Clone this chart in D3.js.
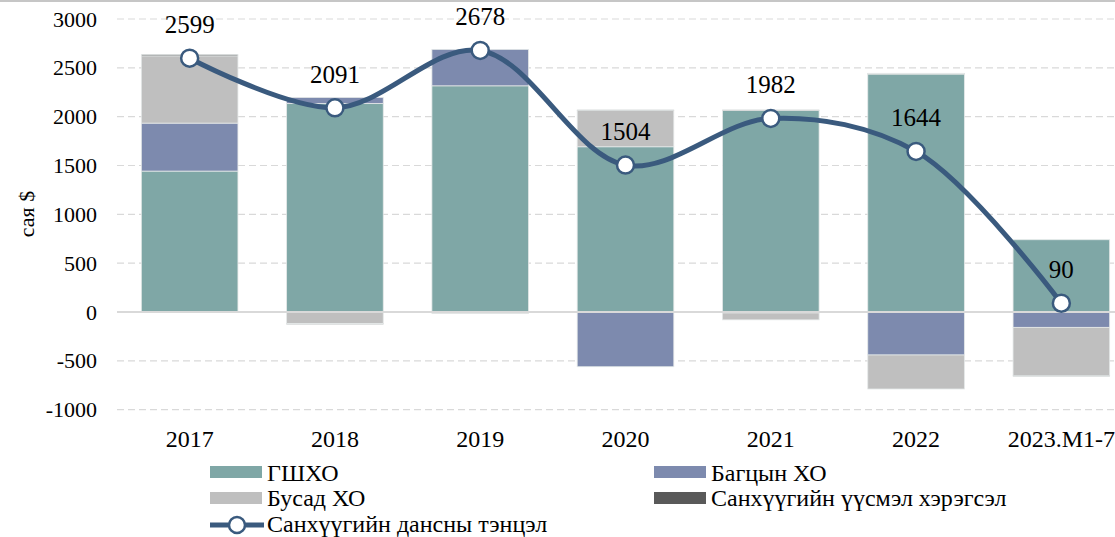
<!DOCTYPE html>
<html>
<head>
    <meta charset="utf-8">
    <style>
        body {
            margin: 0;
            background: #fff;
        }

        svg {
            display: block;
        }
    </style>
</head>
<body>
    <svg width="1115" height="537"></svg>

    <script src="https://d3js.org/d3.v7.min.js"></script>
    <script>
        // values (сая $)
        let categories = ["2017", "2018", "2019", "2020", "2021", "2022", "2023.M1-7"]
        let gshkho = [1443, 2136, 2316, 1692, 2064, 2436, 740]      // ГШХО
        let bagtsyn = [491, 61, 373, -560, -10, -440, -157]       // Багцын ХО
        let busad = [689, -118, -15, 372, -70, -348, -495]        // Бусад ХО
        let derivs = [14, -7, 0, 5, 5, 8, -5]                     // Санхүүгийн үүсмэл хэрэгсэл
        let balance = [2599, 2091, 2678, 1504, 1982, 1644, 90]   // Санхүүгийн дансны тэнцэл
        let yTicks = [-1000, -500, 0, 500, 1000, 1500, 2000, 2500, 3000]

        let keys = ["gshkho", "bagtsyn", "busad", "derivs"]
        let names = {
            gshkho: "ГШХО",
            bagtsyn: "Багцын ХО",
            busad: "Бусад ХО",
            derivs: "Санхүүгийн үүсмэл хэрэгсэл"
        }
        let colors = {
            gshkho: "#7fa7a6",
            bagtsyn: "#7d8aae",
            busad: "#bfbfbf",
            derivs: "#595959"
        }
        let lineColor = "#3a5a7e"
        let serif = "'Liberation Serif', 'Times New Roman', serif"

        let rows = categories.map((c, i) => ({
            cat: c,
            gshkho: gshkho[i],
            bagtsyn: bagtsyn[i],
            busad: busad[i],
            derivs: derivs[i],
            balance: balance[i]
        }))

        let svg = d3.select("svg")

        let x = d3.scaleBand()
            .domain(categories)
            .range([117, 1134])
            .paddingInner(0.335)
            .paddingOuter(0.1675)

        let y = d3.scaleLinear()
            .domain([-1000, 3000])
            .range([409.7, 19])

        // top border
        svg.append("line")
            .attr("x1", 0).attr("x2", 1115)
            .attr("y1", 1).attr("y2", 1)
            .attr("stroke", "#b3b3b3")
            .attr("stroke-width", 1.5)

        // grid lines
        svg.append("g")
            .selectAll("line")
            .data(yTicks.filter(d => d != 0))
            .join("line")
            .attr("x1", 117).attr("x2", 1115)
            .attr("y1", d => y(d)).attr("y2", d => y(d))
            .attr("stroke", "#d9d9d9")
            .attr("stroke-width", 1.2)
            .attr("stroke-dasharray", "7,4")

        // y axis (plain hyphen for negatives, as in the source)
        svg.append("g")
            .attr("transform", "translate(97,0)")
            .call(d3.axisLeft(y).tickValues(yTicks).tickSize(0).tickPadding(0).tickFormat(d => String(d)))
            .call(g => g.attr("font-family", serif).attr("font-size", 22))
            .call(g => g.select(".domain").remove())
            .call(g => g.selectAll("text").attr("fill", "#000"))

        // x axis labels
        svg.append("g")
            .attr("transform", "translate(0,430)")
            .call(d3.axisBottom(x).tickSize(0).tickPadding(0))
            .call(g => g.attr("font-family", serif).attr("font-size", 24))
            .call(g => g.select(".domain").remove())
            .call(g => g.selectAll("text").attr("fill", "#000"))

        // y axis title
        svg.append("text")
            .attr("transform", "translate(34,214) rotate(-90)")
            .attr("text-anchor", "middle")
            .style("font-family", serif)
            .style("font-size", "22px")
            .text("сая $")

        // stacked bars
        let series = d3.stack()
            .keys(keys)
            .offset(d3.stackOffsetDiverging)(rows)

        svg.append("g")
            .selectAll("g")
            .data(series)
            .join("g")
            .attr("fill", d => colors[d.key])
            .selectAll("rect")
            .data(d => d)
            .join("rect")
            .attr("x", d => x(d.data.cat))
            .attr("width", x.bandwidth())
            .attr("y", d => y(Math.max(d[0], d[1])))
            .attr("height", d => Math.abs(y(d[0]) - y(d[1])))
            .attr("stroke", "#e4e8e8")
            .attr("stroke-width", 0.8)

        // zero line
        svg.append("line")
            .attr("x1", 117).attr("x2", 1115)
            .attr("y1", y(0)).attr("y2", y(0))
            .attr("stroke", "#d9d9d9")
            .attr("stroke-width", 2)

        // balance line
        let line = d3.line()
            .x(d => x(d.cat) + x.bandwidth() / 2)
            .y(d => y(d.balance))
            .curve(d3.curveCatmullRom.alpha(0.5))

        svg.append("path")
            .datum(rows)
            .attr("fill", "none")
            .attr("stroke", lineColor)
            .attr("stroke-width", 5)
            .attr("d", line)

        svg.append("g")
            .selectAll("circle")
            .data(rows)
            .join("circle")
            .attr("cx", d => x(d.cat) + x.bandwidth() / 2)
            .attr("cy", d => y(d.balance))
            .attr("r", 8.5)
            .attr("fill", "#fff")
            .attr("stroke", lineColor)
            .attr("stroke-width", 2.5)

        svg.append("g")
            .selectAll("text")
            .data(rows)
            .join("text")
            .attr("x", d => x(d.cat) + x.bandwidth() / 2)
            .attr("y", d => y(d.balance) - 25)
            .attr("text-anchor", "middle")
            .style("font-family", serif)
            .style("font-size", "25px")
            .text(d => d.balance)

        // legend
        let legend = svg.append("g")
            .style("font-family", serif)
            .style("font-size", "24px")
        let legendItems = [
            { key: "gshkho", lx: 210, ly: 466, tx: 267, ty: 481 },
            { key: "bagtsyn", lx: 654, ly: 466, tx: 711, ty: 481 },
            { key: "busad", lx: 210, ly: 492, tx: 267, ty: 506 },
            { key: "derivs", lx: 654, ly: 492, tx: 711, ty: 506 }
        ]

        legendItems.forEach(it => {
            legend.append("rect")
                .attr("x", it.lx)
                .attr("y", it.ly)
                .attr("width", 52)
                .attr("height", 12)
                .attr("fill", colors[it.key])
            legend.append("text")
                .attr("x", it.tx)
                .attr("y", it.ty)
                .text(names[it.key])
        })

        legend.append("line")
            .attr("x1", 210).attr("x2", 264)
            .attr("y1", 525).attr("y2", 525)
            .attr("stroke", lineColor)
            .attr("stroke-width", 5)
        legend.append("circle")
            .attr("cx", 237).attr("cy", 525)
            .attr("r", 8)
            .attr("fill", "#fff")
            .attr("stroke", lineColor)
            .attr("stroke-width", 2.5)
        legend.append("text")
            .attr("x", 267)
            .attr("y", 532)
            .text("Санхүүгийн дансны тэнцэл")
    </script>
</body>
</html>
